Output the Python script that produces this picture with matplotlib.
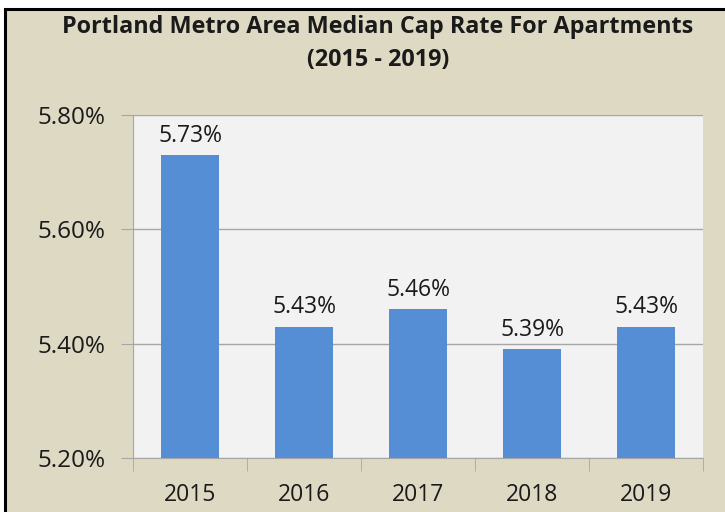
import matplotlib
matplotlib.use("Agg")
import matplotlib.pyplot as plt
from matplotlib.patches import Rectangle
from matplotlib.ticker import FuncFormatter

years = ["2015", "2016", "2017", "2018", "2019"]
cap_rates = [5.73, 5.43, 5.46, 5.39, 5.43]
y_ticks = [5.20, 5.40, 5.60, 5.80]

plt.rcParams['font.family'] = ['Open Sans', 'DejaVu Sans']

W, H = 725, 512
fig = plt.figure(figsize=(7.25, 5.12), dpi=100)
fig.patch.set_facecolor('white')

# tan background panel with black frame (extends past right and bottom edges)
fig.patches.append(Rectangle((4.5/W, -0.05), 1.0, 1.05 - 8.5/H, transform=fig.transFigure,
                             facecolor='#DDD9C3', edgecolor='black', linewidth=2.2, zorder=-10))

ax = fig.add_axes([133/W, 1 - 458/H, (703-133)/W, (458-115)/H])
ax.set_zorder(5)
ax.set_facecolor('#F2F2F2')

x = list(range(len(years)))
ax.bar(x, cap_rates, width=0.51, color='#558ED5', zorder=3)
for xi, v in zip(x, cap_rates):
    ax.text(xi, v + 0.013, f"{v:.2f}%", ha='center', va='bottom', fontsize=16.5, color='#1a1a1a')

ax.set_ylim(5.20, 5.80)
ax.set_xlim(-0.5, 4.5)
ax.set_yticks(y_ticks)
ax.yaxis.set_major_formatter(FuncFormatter(lambda v, p: f"{v:.2f}%"))
ax.set_xticks(x)
ax.set_xticklabels(years)
ax.grid(axis='y', color='#A6A6A6', linewidth=1, zorder=0)
for s in ['top', 'right']:
    ax.spines[s].set_visible(False)
ax.spines['left'].set_color('#A6A6A6')
ax.spines['bottom'].set_color('#A6A6A6')
ax.tick_params(axis='y', length=9, color='#A6A6A6', labelsize=17.5, pad=11, labelcolor='#1a1a1a')
ax.tick_params(axis='x', length=0, labelsize=16.5, pad=18, labelcolor='#1a1a1a')
ax.set_xticks([-0.5, 0.5, 1.5, 2.5, 3.5, 4.5], minor=True)
ax.tick_params(axis='x', which='minor', length=9, color='#A6A6A6')

fig.text(378/W, 1 - 27/H, "Portland Metro Area Median Cap Rate For Apartments",
         ha='center', va='center', fontsize=16.8, fontweight='bold', color='#1a1a1a', zorder=6)
fig.text(378/W, 1 - 60/H, "(2015 - 2019)",
         ha='center', va='center', fontsize=16.8, fontweight='bold', color='#1a1a1a', zorder=6)

fig.savefig("out.png", dpi=100, facecolor=fig.get_facecolor())
